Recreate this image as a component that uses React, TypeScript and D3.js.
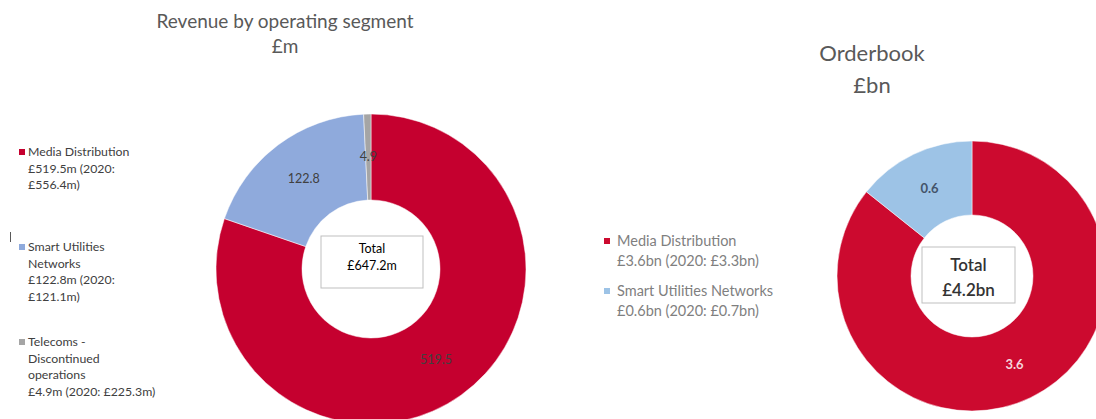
import React from "react";
import * as d3 from "d3";

const revenueCategories = ["Media Distribution", "Smart Utilities Networks", "Telecoms - Discontinued operations"];
const revenueValues = [519.5, 122.8, 4.9];
const revenueLabels = ["519.5", "122.8", "4.9"];
const revenueLegend = [
  ["Media Distribution", "£519.5m (2020:", "£556.4m)"],
  ["Smart Utilities", "Networks", "£122.8m (2020:", "£121.1m)"],
  ["Telecoms -", "Discontinued", "operations", "£4.9m (2020: £225.3m)"],
];
const revenueColors = ["#C5002F", "#8FAADC", "#A5A5A5"];

const orderCategories = ["Media Distribution", "Smart Utilities Networks"];
const orderValues = [3.6, 0.6];
const orderLabels = ["3.6", "0.6"];
const orderLegend = [
  ["Media Distribution", "£3.6bn (2020: £3.3bn)"],
  ["Smart Utilities Networks", "£0.6bn (2020: £0.7bn)"],
];
const orderColors = ["#CC0A2F", "#9DC3E6"];

const FONT = "Lato, 'Open Sans', sans-serif";

export default function App() {
  const pie = d3.pie<number>().sort(null).value((d) => d);

  // Left donut
  const lc = { x: 371, y: 269 };
  const lArc = d3.arc<d3.PieArcDatum<number>>().innerRadius(69).outerRadius(155);
  const lArcs = pie(revenueValues);

  // Right donut
  const rc = { x: 972, y: 276 };
  const rArc = d3.arc<d3.PieArcDatum<number>>().innerRadius(61).outerRadius(135);
  const rArcs = pie(orderValues);

  const leftLegendY = [152, 247, 342];
  const rightLegendY = [241, 291];

  return (
    <svg
      width={1096}
      height={419}
      style={{ position: "absolute", left: 0, top: 0, background: "#fff" }}
      fontFamily={FONT}
    >
      {/* Left title */}
      <text x={285} y={28} textAnchor="middle" fontSize={19} fill="#595959">
        Revenue by operating segment
      </text>
      <text x={285} y={53} textAnchor="middle" fontSize={19} fill="#595959">
        £m
      </text>

      {/* Left legend */}
      <line x1={10.5} x2={10.5} y1={232} y2={242} stroke="#595959" strokeWidth={1} />
      {revenueLegend.map((lines, i) => (
        <g key={revenueCategories[i]}>
          <rect x={19} y={leftLegendY[i] - 3} width={6} height={6} fill={revenueColors[i]} />
          {lines.map((ln, j) => (
            <text key={j} x={28} y={leftLegendY[i] + 4 + j * 16.5} fontSize={12.3} fill="#404040">
              {ln}
            </text>
          ))}
        </g>
      ))}

      {/* Left donut */}
      <g transform={`translate(${lc.x},${lc.y})`}>
        {lArcs.map((a, i) => (
          <path key={i} d={lArc(a) || ""} fill={revenueColors[i]} stroke="#fff" strokeWidth={0.5} />
        ))}
        {lArcs.map((a, i) => {
          const [cx, cy] = lArc.centroid(a);
          return (
            <text key={"l" + i} x={cx} y={cy + 4} textAnchor="middle" fontSize={12.5} fill="#404040">
              {revenueLabels[i]}
            </text>
          );
        })}
        <rect x={-50} y={-33} width={102} height={52} fill="#fff" stroke="#BFBFBF" strokeWidth={1} />
        <text x={1} y={-16} textAnchor="middle" fontSize={12.5} fill="#000">Total</text>
        <text x={1} y={1} textAnchor="middle" fontSize={12.5} fill="#000">£647.2m</text>
      </g>

      {/* Right title */}
      <text x={872} y={61} textAnchor="middle" fontSize={22} fill="#595959">
        Orderbook
      </text>
      <text x={872} y={93} textAnchor="middle" fontSize={22} fill="#595959">
        £bn
      </text>

      {/* Right legend */}
      {orderLegend.map((lines, i) => (
        <g key={orderCategories[i]}>
          <rect x={604} y={rightLegendY[i] - 3} width={6} height={6} fill={orderColors[i]} />
          {lines.map((ln, j) => (
            <text key={j} x={617} y={rightLegendY[i] + 5 + j * 20} fontSize={14.5} fill="#7F7F7F">
              {ln}
            </text>
          ))}
        </g>
      ))}

      {/* Right donut */}
      <g transform={`translate(${rc.x},${rc.y})`}>
        {rArcs.map((a, i) => (
          <path key={i} d={rArc(a) || ""} fill={orderColors[i]} stroke="#fff" strokeWidth={0.5} />
        ))}
        {rArcs.map((a, i) => {
          const [cx, cy] = rArc.centroid(a);
          return (
            <text
              key={"r" + i}
              x={cx}
              y={cy + 5}
              textAnchor="middle"
              fontSize={13}
              fontWeight="bold"
              fill={i === 0 ? "#F4D6DC" : "#44546A"}
            >
              {orderLabels[i]}
            </text>
          );
        })}
        <rect x={-50} y={-29} width={93} height={56} fill="#fff" stroke="#BFBFBF" strokeWidth={1} />
        <text x={-3.5} y={-5} textAnchor="middle" fontSize={17} fontWeight={600} fill="#333">Total</text>
        <text x={-3.5} y={20} textAnchor="middle" fontSize={17} fontWeight={600} fill="#333">£4.2bn</text>
      </g>
    </svg>
  );
}
